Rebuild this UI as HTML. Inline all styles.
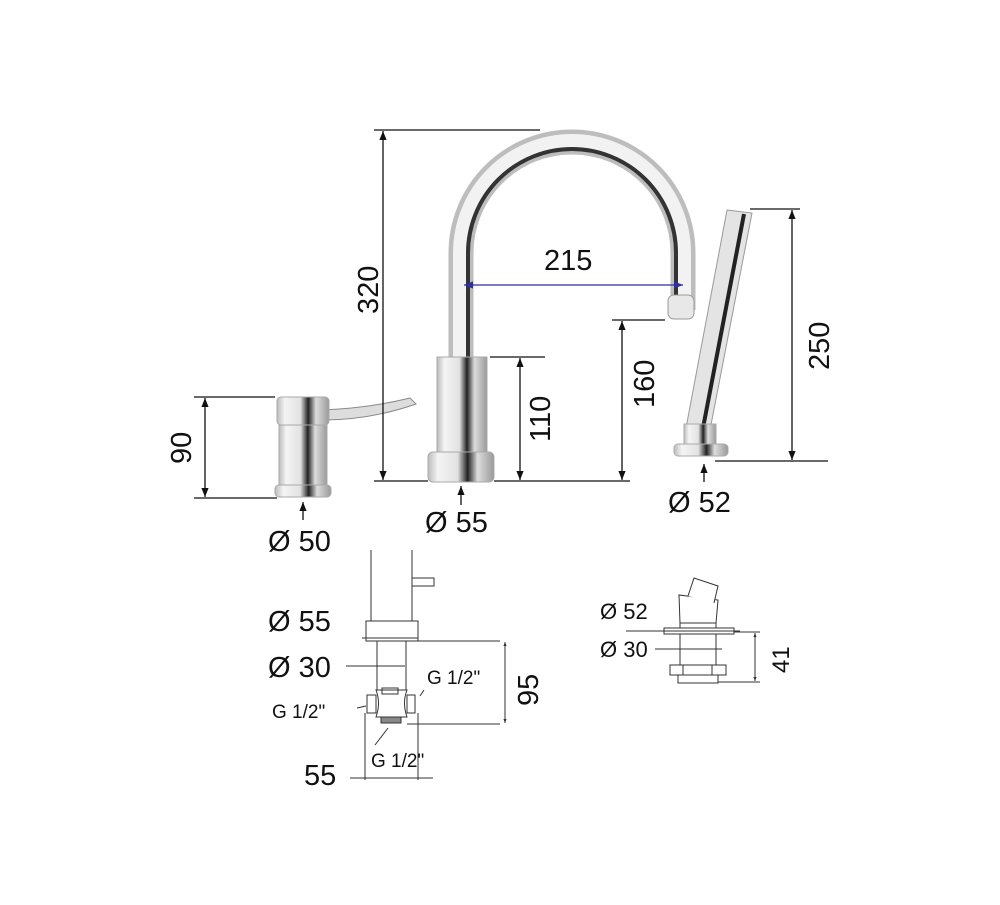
<!DOCTYPE html>
<html><head><meta charset="utf-8"><style>
html,body{margin:0;padding:0;background:#fff}
svg text{font-family:"Liberation Sans",Arial,sans-serif;fill:#111}
</style></head><body>
<svg width="1000" height="900" viewBox="0 0 1000 900" xmlns="http://www.w3.org/2000/svg">
<defs>
<linearGradient id="cg" x1="0" x2="1" y1="0" y2="0">
<stop offset="0" stop-color="#bbb"/><stop offset="0.15" stop-color="#f4f4f4"/><stop offset="0.45" stop-color="#e2e2e2"/><stop offset="0.6" stop-color="#222"/><stop offset="0.75" stop-color="#ddd"/><stop offset="1" stop-color="#999"/>
</linearGradient>
<marker id="ah" viewBox="0 0 10 10" refX="10" refY="5" markerWidth="7" markerHeight="7" orient="auto-start-reverse"><path d="M0,1 L10,5 L0,9z" fill="#111"/></marker>
<marker id="bh" viewBox="0 0 10 10" refX="10" refY="5" markerWidth="7" markerHeight="7" orient="auto-start-reverse"><path d="M0,1 L10,5 L0,9z" fill="#2b2fa0"/></marker>
<marker id="sh" viewBox="0 0 10 10" refX="10" refY="5" markerWidth="4" markerHeight="4" orient="auto-start-reverse"><path d="M0,1 L10,5 L0,9z" fill="#333"/></marker>
</defs>

<!-- spout -->
<path d="M461,360 L461,253 A111,111 0 0 1 683,253 L683,310" fill="none" stroke="#bdbdbd" stroke-width="25"/>
<path d="M461,360 L461,253 A111,111 0 0 1 683,253 L683,310" fill="none" stroke="#f2f2f2" stroke-width="16"/>
<path d="M468,360 L468,253 A104,104 0 0 1 676,253 L676,305" fill="none" stroke="#333" stroke-width="4"/>
<rect x="668" y="295" width="26" height="24" rx="6" fill="#e8e8e8" stroke="#999"/>
<!-- body -->
<rect x="437" y="357" width="50" height="98" fill="url(#cg)" stroke="#aaa"/>
<rect x="428" y="452" width="66" height="30" rx="5" fill="url(#cg)" stroke="#aaa"/>

<!-- left mixer -->
<path d="M322,410 Q370,408 410,398 L416,404 Q370,420 322,420z" fill="#ddd" stroke="#888"/>
<rect x="277" y="397" width="52" height="28" rx="4" fill="url(#cg)" stroke="#aaa"/>
<rect x="279" y="425" width="48" height="62" fill="url(#cg)" stroke="#aaa"/>
<rect x="275" y="485" width="56" height="12" rx="4" fill="url(#cg)" stroke="#aaa"/>

<!-- hand shower -->
<path d="M727,210 L752,213 L710,430 L686,428z" fill="#e4e4e4" stroke="#999"/>
<path d="M744,214 L703,428" stroke="#222" stroke-width="4"/>
<rect x="684" y="424" width="32" height="22" fill="url(#cg)" stroke="#aaa"/>
<rect x="674" y="444" width="54" height="12" rx="4" fill="url(#cg)" stroke="#aaa"/>

<!-- dimension lines -->
<g stroke="#111" stroke-width="1.3" fill="none">
<line x1="374" y1="130" x2="540" y2="130"/>
<line x1="374" y1="481" x2="428" y2="481"/>
<line x1="494" y1="481" x2="630" y2="481"/>
<line x1="383" y1="131" x2="383" y2="480" marker-start="url(#ah)" marker-end="url(#ah)"/>
<line x1="490" y1="357" x2="545" y2="357"/>
<line x1="520" y1="358" x2="520" y2="480" marker-start="url(#ah)" marker-end="url(#ah)"/>
<line x1="612" y1="320" x2="665" y2="320"/>
<line x1="622" y1="321" x2="622" y2="480" marker-start="url(#ah)" marker-end="url(#ah)"/>
<line x1="750" y1="209" x2="800" y2="209"/>
<line x1="715" y1="461" x2="828" y2="461"/>
<line x1="792" y1="210" x2="792" y2="460" marker-start="url(#ah)" marker-end="url(#ah)"/>
<line x1="194" y1="397" x2="275" y2="397"/>
<line x1="194" y1="498" x2="277" y2="498"/>
<line x1="205" y1="398" x2="205" y2="497" marker-start="url(#ah)" marker-end="url(#ah)"/>
<line x1="303" y1="520" x2="303" y2="502" marker-end="url(#ah)"/>
<line x1="461" y1="505" x2="461" y2="486" marker-end="url(#ah)"/>
<line x1="704" y1="482" x2="704" y2="464" marker-end="url(#ah)"/>
</g>
<line x1="464" y1="285" x2="683" y2="285" stroke="#2b2fa0" stroke-width="1.3" marker-start="url(#bh)" marker-end="url(#bh)"/>

<text x="544" y="270" font-size="29">215</text>
<text x="0" y="0" font-size="29" transform="translate(378,314) rotate(-90)">320</text>
<text x="0" y="0" font-size="29" transform="translate(550,442) rotate(-90)">110</text>
<text x="0" y="0" font-size="29" transform="translate(654,408) rotate(-90)">160</text>
<text x="0" y="0" font-size="29" transform="translate(829,370) rotate(-90)">250</text>
<text x="0" y="0" font-size="29" transform="translate(191,464) rotate(-90)">90</text>
<text x="268" y="551" font-size="29">Ø 50</text>
<text x="425" y="532" font-size="29">Ø 55</text>
<text x="668" y="512" font-size="29">Ø 52</text>

<!-- bottom left section -->
<g stroke="#333" stroke-width="1" fill="none">
<line x1="371" y1="550" x2="371" y2="621"/>
<line x1="412" y1="550" x2="412" y2="621"/>
<rect x="412" y="578" width="22" height="8"/>
<rect x="366" y="621" width="52" height="20" fill="#fff"/>
<line x1="377" y1="641" x2="377" y2="690"/>
<line x1="406" y1="641" x2="406" y2="690"/>
<path d="M376,690 L407,690 Q402,703 407,717 L376,717 Q381,703 376,690z" fill="#fff"/>
<rect x="367" y="695" width="9" height="18"/>
<rect x="407" y="695" width="8" height="18"/>
<rect x="382" y="688" width="16" height="6"/>
<rect x="381" y="717" width="20" height="6" fill="#888"/>
<line x1="418" y1="641" x2="500" y2="641"/>
<line x1="407" y1="724" x2="500" y2="724"/>
<line x1="362" y1="638" x2="418" y2="638"/>
<line x1="346" y1="666" x2="405" y2="666"/>
<line x1="505" y1="642" x2="505" y2="723" marker-start="url(#sh)" marker-end="url(#sh)"/>
<line x1="365" y1="713" x2="365" y2="780"/>
<line x1="418" y1="713" x2="418" y2="780"/>
<line x1="350" y1="778" x2="433" y2="778"/>
<line x1="357" y1="708" x2="366" y2="706"/>
<line x1="420" y1="696" x2="424" y2="690"/>
<line x1="375" y1="745" x2="388" y2="728"/>
</g>
<text x="268" y="631" font-size="29">Ø 55</text>
<text x="268" y="677" font-size="29">Ø 30</text>
<text x="427" y="684" font-size="19">G 1/2"</text>
<text x="272" y="718" font-size="19">G 1/2"</text>
<text x="371" y="767" font-size="19">G 1/2"</text>
<text x="304" y="785" font-size="29">55</text>
<text x="0" y="0" font-size="29" transform="translate(538,706) rotate(-90)">95</text>

<!-- bottom right section -->
<g stroke="#333" stroke-width="1" fill="none">
<path d="M687,596 L718,600 L716,623 L680,623 L679,595z" fill="#fff"/>
<path d="M688,596 L694,578 L718,586 L714,603" fill="#fff"/>
<rect x="664" y="628" width="70" height="6" fill="#fff"/>
<line x1="680" y1="623" x2="680" y2="628"/><line x1="716" y1="623" x2="716" y2="628"/>
<line x1="680" y1="634" x2="680" y2="666"/><line x1="716" y1="634" x2="716" y2="666"/>
<rect x="670" y="665" width="56" height="10" fill="#fff"/>
<line x1="683" y1="665" x2="683" y2="675"/><line x1="712" y1="665" x2="712" y2="675"/>
<rect x="678" y="675" width="40" height="8" fill="#fff"/>
<line x1="626" y1="631" x2="740" y2="631"/>
<line x1="655" y1="649" x2="722" y2="649"/>
<line x1="734" y1="632" x2="760" y2="632"/>
<line x1="718" y1="682" x2="760" y2="682"/>
<line x1="755" y1="633" x2="755" y2="681" marker-start="url(#sh)" marker-end="url(#sh)"/>
</g>
<text x="600" y="619" font-size="22">Ø 52</text>
<text x="600" y="657" font-size="22">Ø 30</text>
<text x="0" y="0" font-size="24" transform="translate(789,673) rotate(-90)">41</text>
</svg>
</body></html>
